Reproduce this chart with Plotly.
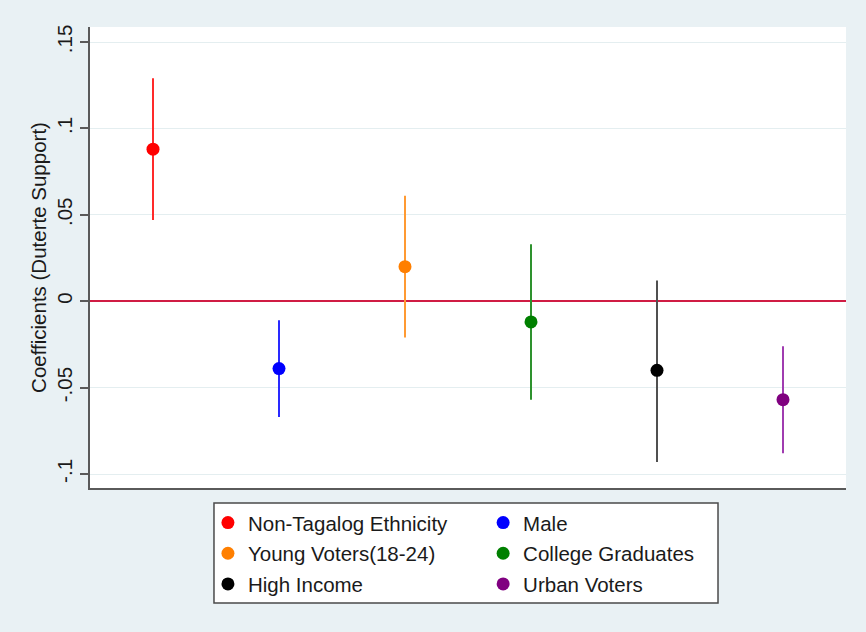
import plotly.graph_objects as go

# Coefficient estimates with 95% confidence intervals
labels = ["Non-Tagalog Ethnicity", "Male", "Young Voters(18-24)",
          "College Graduates", "High Income", "Urban Voters"]
positions = [1, 2, 3, 4, 5, 6]
coef = [0.088, -0.039, 0.020, -0.012, -0.040, -0.057]
ci_low = [0.047, -0.067, -0.021, -0.057, -0.093, -0.088]
ci_high = [0.129, -0.011, 0.061, 0.033, 0.012, -0.026]

y_ticks = [-0.1, -0.05, 0, 0.05, 0.1, 0.15]
y_tick_text = ["-.1", "-.05", "0", ".05", ".1", ".15"]

dot_colors = ["#ff0000", "#0000ff", "#ff7f00", "#008000", "#000000", "#800080"]
ci_colors = ["#ff2a2a", "#2a2aff", "#ff9a33", "#2e922e", "#505050", "#a03cb0"]
legend_ids = ["legend", "legend2", "legend", "legend2", "legend", "legend2"]

FONT = "Liberation Sans, Arial, Helvetica, sans-serif"

fig = go.Figure()
for i, name in enumerate(labels):
    fig.add_trace(go.Scatter(
        x=[positions[i]], y=[coef[i]],
        mode="markers",
        name=name,
        legend=legend_ids[i],
        legendgroup=name,
        marker=dict(color=dot_colors[i], size=13),
        error_y=dict(
            type="data", symmetric=False,
            array=[ci_high[i] - coef[i]],
            arrayminus=[coef[i] - ci_low[i]],
            color=ci_colors[i], thickness=2, width=0,
        ),
        hoverinfo="skip",
    ))

legend_style = dict(
    orientation="v",
    bgcolor="rgba(0,0,0,0)",
    borderwidth=0,
    font=dict(family=FONT, size=20.5, color="#1a1a1a"),
    tracegroupgap=1,
    xanchor="left", yanchor="top",
    itemclick=False, itemdoubleclick=False,
)

fig.update_layout(
    width=866, height=632,
    margin=dict(l=90, r=20, t=27, b=144),
    paper_bgcolor="#e9f1f4",
    plot_bgcolor="#ffffff",
    font=dict(family=FONT, color="#1a1a1a"),
    legend=dict(legend_style, x=0.156, y=-0.032),
    legend2=dict(legend_style, x=0.52, y=-0.032),
    shapes=[dict(
        type="rect", xref="paper", yref="paper",
        x0=0.164, x1=0.8307, y0=-0.2495, y1=-0.0325,
        fillcolor="#ffffff", line=dict(color="#4a4a4a", width=1.5),
        layer="below",
    )],
    xaxis=dict(
        range=[0.5, 6.5],
        showgrid=False, zeroline=False,
        showticklabels=False, ticks="",
        showline=True, linecolor="#5a5a5a", linewidth=2,
        fixedrange=True,
    ),
    yaxis=dict(
        range=[-0.1081, 0.1587],
        tickvals=y_ticks, ticktext=y_tick_text,
        tickangle=-90,
        tickfont=dict(family=FONT, size=20.5, color="#1a1a1a"),
        ticks="outside", ticklen=8, tickwidth=1.5, tickcolor="#5a5a5a",
        showline=True, linecolor="#5a5a5a", linewidth=2,
        showgrid=True, gridcolor="#e4eef0", gridwidth=1,
        zeroline=True, zerolinecolor="#d01c44", zerolinewidth=2,
        title=dict(text="Coefficients (Duterte Support)",
                   font=dict(family=FONT, size=20.5, color="#1a1a1a"),
                   standoff=1),
        fixedrange=True,
    ),
)

fig.write_html("out.html")
